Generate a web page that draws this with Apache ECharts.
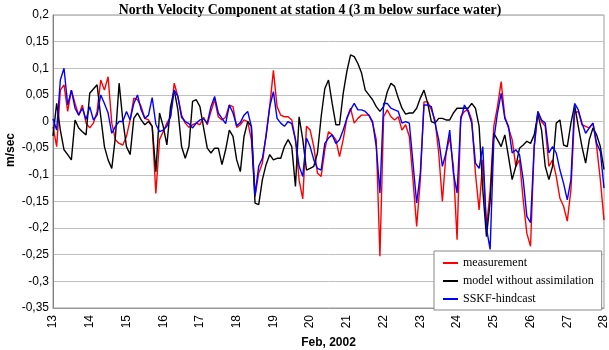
<!DOCTYPE html>
<html><head><meta charset="utf-8">
<script src="https://cdn.jsdelivr.net/npm/echarts@6/dist/echarts.min.js"></script>
<style>html,body{margin:0;padding:0;background:#fff}#c{width:609px;height:350px}</style>
</head><body><div id="c"></div>
<script>
// Time sampling (days of Feb 2002) : start and step of the sampling grid
const startDay = 13;
const stepDay = 0.1;
const xTicks = [13,14,15,16,17,18,19,20,21,22,23,24,25,26,27,28];
const seriesNames = ['measurement', 'model without assimilation', 'SSKF-hindcast'];

const measurement = [
 -0.01,-0.047,0.059,0.069,0.019,0.059,0.034,0.012,0.031,-0.003,
 -0.012,-0.003,0.019,0.078,0.059,0.084,-0.003,-0.034,-0.041,-0.044,
 -0.028,0.003,0.044,0.041,0.028,0.006,0.003,-0.009,-0.135,-0.034,
 -0.019,-0.003,0.009,0.072,0.047,0.012,-0.003,-0.011,-0.006,-0.003,
 -0.006,0.008,-0.006,0.019,0.041,0.009,0.003,0.008,0.031,0.028,
 -0.011,-0.006,0.003,0,-0.034,-0.141,-0.097,-0.078,-0.025,0.028,
 0.096,0.028,0.012,0.009,0.009,0.003,-0.034,-0.11,-0.145,-0.009,
 -0.016,-0.047,-0.097,-0.103,-0.053,-0.019,-0.025,-0.034,-0.066,-0.034,
 0.006,0.025,-0.003,0.006,0.012,0.012,0.012,-0.003,-0.034,-0.253,
 0.009,0.022,0.009,0.003,0.009,-0.016,-0.006,-0.028,-0.109,-0.197,
 -0.109,0.037,0.037,0.022,0.003,-0.059,-0.15,-0.059,-0.03,-0.084,
 -0.222,0.009,0.019,0.022,0.003,-0.097,-0.166,-0.072,-0.2,-0.13,
 -0.009,0.028,0.075,0.009,-0.012,-0.034,-0.084,-0.072,-0.147,-0.21,
 -0.234,-0.047,0.019,0,-0.009,-0.084,-0.072,-0.103,-0.144,-0.159,
 -0.187,-0.128,0.016,0.019,-0.006,-0.009,-0.012,-0.003,-0.047,-0.109,
 -0.185
];
const model = [
 -0.027,0.034,-0.016,-0.053,-0.062,-0.072,0.003,-0.012,-0.019,-0.025,
 0.053,0.061,0.069,0.009,-0.047,-0.072,-0.088,-0.028,0.072,0.003,
 -0.047,-0.062,0.006,0.016,0.003,-0.006,0,-0.009,-0.094,0.016,
 -0.009,-0.044,0.028,0.059,0.022,-0.047,-0.069,-0.047,0.038,0.041,
 0.028,-0.012,-0.05,-0.059,-0.05,-0.05,-0.081,-0.053,-0.016,-0.028,
 -0.072,-0.094,-0.028,0,-0.009,-0.153,-0.156,-0.109,-0.081,-0.062,
 -0.072,-0.069,-0.069,-0.047,-0.034,-0.047,-0.122,0.009,-0.034,-0.091,
 -0.088,-0.084,-0.059,0.009,0.062,0.078,0.034,-0.006,-0.006,0.053,
 0.094,0.125,0.122,0.109,0.091,0.059,0.05,0.041,0.028,0.019,
 0.028,0.056,0.072,0.066,0.044,0.025,0.014,0.016,0.016,0.025,
 0.044,0.059,0.034,0,-0.003,0.006,0.006,0.003,0.003,0.016,
 0.025,0.025,0.025,0.025,0.034,0.025,-0.009,-0.128,-0.216,-0.15,
 -0.022,-0.034,-0.047,-0.025,-0.066,-0.109,-0.084,-0.05,-0.044,-0.037,
 -0.041,-0.025,0.014,-0.016,-0.084,-0.109,-0.084,-0.003,0.003,-0.044,
 -0.047,-0.003,0.031,-0.009,-0.047,-0.078,-0.034,-0.012,-0.025,-0.047,
 -0.09
];
const sskf = [
 0.005,-0.016,0.078,0.1,0.031,0.059,0.025,0.012,0.025,0.004,
 0.028,0.003,0.012,0.05,0.034,0.016,-0.022,-0.009,0,0,
 0.019,0.003,0.034,0.05,0.022,0.006,0.012,0.045,-0.005,-0.019,
 -0.016,-0.009,0.009,0.059,0.047,0.008,0,-0.004,-0.012,-0.003,
 0.003,0.005,-0.003,0.028,0.047,0.016,0.006,-0.004,0.031,0.016,
 -0.008,-0.002,0.012,0.019,-0.009,-0.138,-0.084,-0.069,-0.028,0.028,
 0.056,0.006,-0.003,-0.009,0,-0.004,-0.034,-0.084,-0.103,-0.031,
 -0.047,-0.072,-0.088,-0.091,-0.041,-0.031,-0.025,-0.041,-0.034,-0.016,
 0.006,0.022,0.034,0.022,0.022,0.019,0.012,0,-0.047,-0.134,
 0.034,0.034,0.025,0.022,0.019,-0.003,0,-0.003,-0.078,-0.153,
 -0.097,0.031,0.031,0.028,-0.003,-0.034,-0.084,-0.059,-0.016,-0.097,
 -0.134,0.003,0.031,0.019,-0.003,-0.078,-0.088,-0.047,-0.2,-0.24,
 -0.034,0.016,0.053,0.006,-0.009,-0.059,-0.053,-0.062,-0.109,-0.178,
 -0.19,-0.047,0.019,0.003,-0.003,-0.059,-0.047,-0.059,-0.091,-0.116,
 -0.147,-0.109,0.034,0.022,-0.003,-0.022,-0.012,-0.003,-0.041,-0.056,
 -0.125
];

const toPairs = vals => vals.map((v, i) => [+(startDay + i * stepDay).toFixed(2), v]);
const fmtY = v => String(Math.round(v * 100) / 100).replace('.', ',');

const chart = echarts.init(document.getElementById('c'), null, {renderer: 'canvas'});
chart.setOption({
  animation: false,
  backgroundColor: '#ffffff',
  title: {
    text: 'North Velocity Component at station 4 (3 m below surface water)',
    left: 305, top: -2, textAlign: 'center',
    textStyle: {fontFamily: 'Liberation Serif', fontWeight: 'bold', fontSize: 13.8, color: '#000'}
  },
  grid: {left: 53, right: 5, top: 15, bottom: 42, show: true, borderColor: '#999', borderWidth: 1, backgroundColor: '#fff',
         outerBoundsMode: 'none', containLabel: false},
  legend: {
    data: seriesNames,
    orient: 'vertical', left: 434, top: 251,
    padding: [5, 8, 4, 9], itemGap: 4, itemWidth: 15, itemHeight: 2, icon: 'rect',
    backgroundColor: '#fff', borderColor: '#888', borderWidth: 1,
    textStyle: {fontFamily: 'Liberation Serif', fontSize: 12, color: '#000', lineHeight: 14}
  },
  xAxis: {
    type: 'value', min: xTicks[0], max: xTicks[xTicks.length - 1], interval: 1,
    axisLine: {show: true, onZero: false, lineStyle: {color: '#999'}},
    axisTick: {show: false},
    splitLine: {show: false},
    axisLabel: {rotate: 90, margin: 7, fontFamily: 'Liberation Sans', fontSize: 12, color: '#000'},
    name: 'Feb, 2002', nameLocation: 'middle', nameGap: 26,
    nameTextStyle: {fontFamily: 'Liberation Sans', fontWeight: 'bold', fontSize: 12, color: '#000'}
  },
  yAxis: {
    type: 'value', min: -0.35, max: 0.2, interval: 0.05,
    axisLine: {show: true, lineStyle: {color: '#808080'}},
    axisTick: {show: false},
    splitLine: {show: true, lineStyle: {color: '#c0c0c0', width: 1}},
    axisLabel: {margin: 4, fontFamily: 'Liberation Sans', fontSize: 12, color: '#000', formatter: fmtY}
  },
  graphic: [{
    type: 'text', x: 11, y: 150, rotation: Math.PI / 2,
    style: {text: 'm/sec', font: 'bold 12px "Liberation Sans"', fill: '#000', textAlign: 'center', textVerticalAlign: 'middle'}
  }],
  series: [
    {name: seriesNames[0], type: 'line', data: toPairs(measurement), symbol: 'none', lineStyle: {color: '#ff0000', width: 1.4}, itemStyle: {color: '#ff0000'}},
    {name: seriesNames[1], type: 'line', data: toPairs(model), symbol: 'none', lineStyle: {color: '#000000', width: 1.4}, itemStyle: {color: '#000000'}},
    {name: seriesNames[2], type: 'line', data: toPairs(sskf), symbol: 'none', lineStyle: {color: '#0000ff', width: 1.4}, itemStyle: {color: '#0000ff'}}
  ]
});
</script>
</body></html>
